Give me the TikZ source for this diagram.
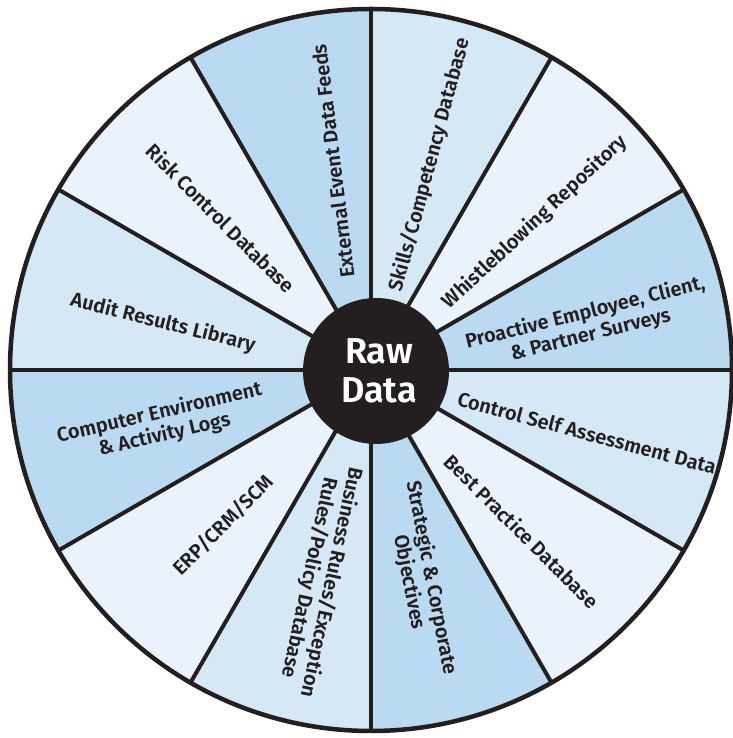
\documentclass[tikz,border=0pt]{standalone}
\usepackage{fontspec}
\newfontfamily\labfont{Fira Sans SemiBold}
\definecolor{dkblue}{HTML}{B9DAF0}
\definecolor{mdblue}{HTML}{D4E8F6}
\definecolor{ltblue}{HTML}{EAF3FB}
\definecolor{ink}{HTML}{231F20}
\begin{document}
\begin{tikzpicture}[x=1pt,y=1pt,
  lab/.style={font=\labfont\fontsize{20}{22.5}\selectfont, text=ink, align=center, inner sep=0pt},
  spoke/.style={draw=ink, line width=4pt},
  rim/.style={draw=ink, line width=4.5pt}]
\useasboundingbox (0,0) rectangle (732,738);
\coordinate (C) at (371,368);
\foreach \a/\c in {120/dkblue,90/mdblue,60/ltblue,30/dkblue,0/mdblue,-30/ltblue,-60/dkblue,-90/mdblue,-120/ltblue,-150/dkblue,-180/mdblue,-210/ltblue}
  \fill[\c] (C) -- ++(\a:361) arc[start angle=\a, end angle=\a-30, radius=361] -- cycle;
\foreach \a in {0,30,...,330}
  \draw[spoke] (C) -- ++(\a:361);
\draw[rim] (C) circle[radius=361];
\node[circle, fill=ink, minimum size=146pt, inner sep=0pt] (hub) at (376,367) {};
\node[text=white, font=\labfont\fontsize{36}{39}\selectfont, align=center, inner sep=0pt] (hubtext) at (379,367) {Raw\\Data};
\node[lab, rotate=97] (l1) at (333,577) {External Event Data Feeds};
\node[lab, rotate=75] (l2) at (430,573) {Skills/Competency Database};
\node[lab, rotate=43] (l3) at (535,516) {Whistleblowing Repository};
\node[lab, rotate=14] (l4) at (588,414) {Proactive Employee, Client,\\\& Partner Surveys};
\node[lab, rotate=-15] (l5) at (587,305) {Control Self Assessment Data};
\node[lab, rotate=-45] (l6) at (522,207) {Best Practice Database};
\node[lab, rotate=-79] (l7) at (420,158) {Strategic \& Corporate\\Objectives};
\node[lab, rotate=-102] (l8) at (320,158) {Business Rules/Exception\\Rules/Policy Database};
\node[lab, rotate=45] (l9) at (223,213) {ERP/CRM/SCM};
\node[lab, rotate=13] (l10) at (162,314) {Computer Environment\\\& Activity Logs};
\node[lab, rotate=-14] (l11) at (163,415) {Audit Results Library};
\node[lab, rotate=-45] (l12) at (221,520) {Risk Control Database};
\end{tikzpicture}
\end{document}
